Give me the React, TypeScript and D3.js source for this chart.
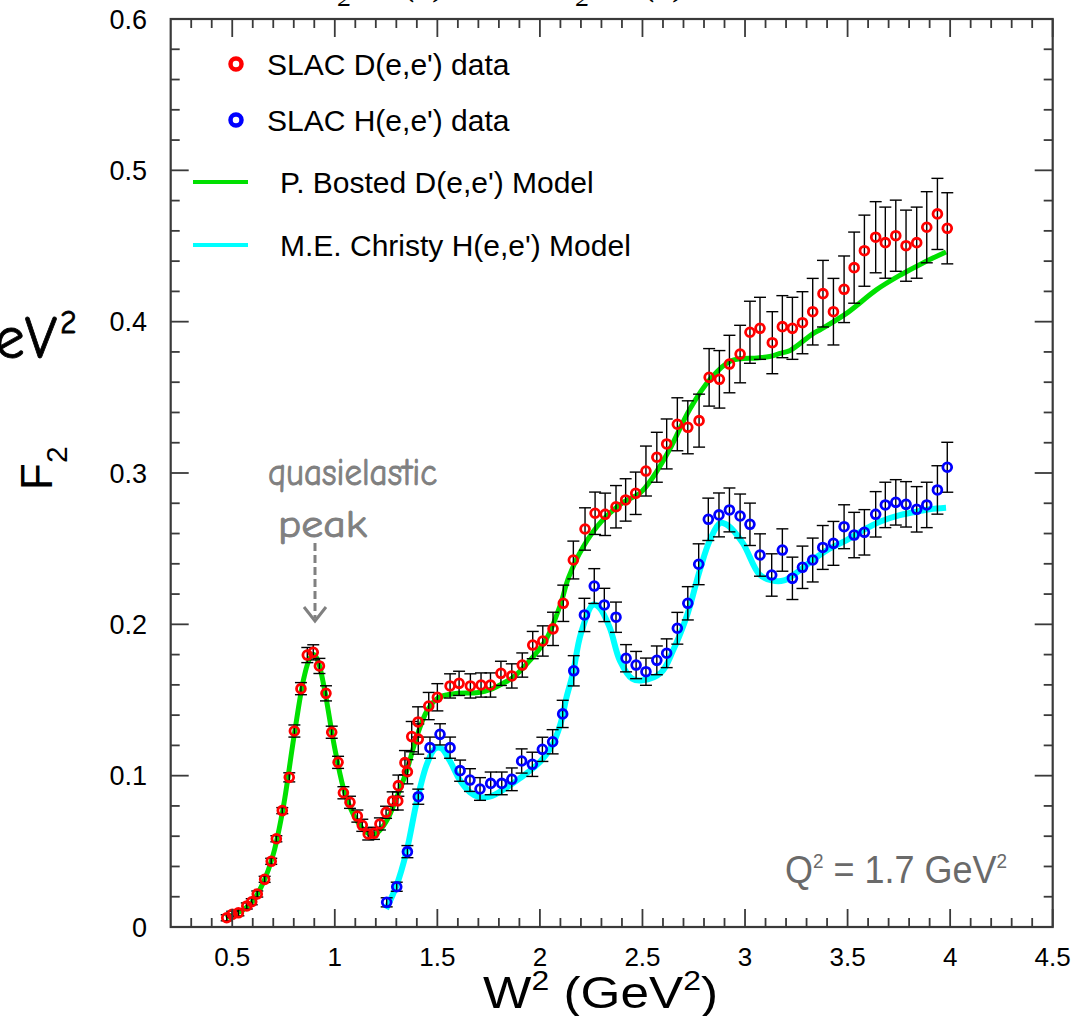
import React from "react";
import * as d3 from "d3";

// ---------- data ----------
const dW2 = [0.473,0.500,0.530,0.571,0.595,0.622,0.658,0.690,0.715,0.744,0.778,0.803,0.835,0.866,0.895,0.925,0.957,0.985,1.016,1.042,1.074,1.110,1.134,1.163,1.191,1.220,1.250,1.282,1.307,1.310,1.342,1.354,1.375,1.407,1.406,1.458,1.500,1.562,1.606,1.661,1.713,1.759,1.810,1.863,1.914,1.965,2.014,2.064,2.114,2.163,2.220,2.269,2.318,2.371,2.418,2.467,2.517,2.570,2.618,2.670,2.721,2.776,2.825,2.875,2.924,2.976,3.024,3.073,3.133,3.182,3.231,3.280,3.330,3.380,3.431,3.483,3.532,3.582,3.637,3.684,3.735,3.785,3.837,3.886,3.938,3.986];
const dF2 = [0.0061,0.0084,0.0094,0.0139,0.0167,0.0218,0.0315,0.0434,0.0583,0.0769,0.0989,0.1295,0.1575,0.1797,0.1815,0.1725,0.1544,0.1287,0.1088,0.0887,0.0824,0.0733,0.0672,0.0615,0.0619,0.0681,0.0758,0.0833,0.0833,0.0934,0.1086,0.1026,0.1258,0.1242,0.1355,0.1460,0.1518,0.1593,0.1610,0.1593,0.1599,0.1599,0.1676,0.1659,0.1731,0.1863,0.1890,0.1970,0.2139,0.2425,0.2630,0.2734,0.2727,0.2777,0.2822,0.2866,0.3013,0.3104,0.3192,0.3322,0.3302,0.3346,0.3632,0.3619,0.3720,0.3786,0.3930,0.3956,0.3861,0.3967,0.3956,0.3993,0.4066,0.4185,0.4066,0.4214,0.4357,0.4469,0.4558,0.4522,0.4568,0.4502,0.4522,0.4624,0.4712,0.4617];
const dErr = [0.002,0.002,0.002,0.002,0.002,0.002,0.002,0.002,0.002,0.002,0.003,0.004,0.004,0.005,0.005,0.005,0.005,0.004,0.004,0.004,0.004,0.004,0.004,0.004,0.004,0.004,0.004,0.006,0.006,0.007,0.008,0.008,0.010,0.010,0.010,0.009,0.009,0.008,0.008,0.008,0.008,0.008,0.008,0.008,0.008,0.009,0.010,0.011,0.012,0.0125,0.014,0.014,0.014,0.014,0.014,0.014,0.0165,0.0165,0.0165,0.0175,0.0175,0.0175,0.019,0.019,0.019,0.019,0.0205,0.0205,0.0205,0.0205,0.0205,0.0205,0.022,0.022,0.022,0.022,0.0235,0.0235,0.0235,0.0235,0.0235,0.0235,0.0235,0.0235,0.0235,0.0235];

const hW2 = [1.253,1.302,1.354,1.407,1.464,1.513,1.562,1.611,1.659,1.708,1.760,1.814,1.863,1.911,1.963,2.012,2.062,2.111,2.165,2.217,2.265,2.314,2.371,2.420,2.469,2.517,2.570,2.618,2.670,2.721,2.774,2.821,2.873,2.924,2.976,3.024,3.073,3.130,3.182,3.231,3.280,3.330,3.379,3.431,3.483,3.532,3.582,3.637,3.684,3.735,3.785,3.837,3.886,3.938,3.986];
const hF2 = [0.0163,0.0266,0.0498,0.0861,0.1185,0.1273,0.1185,0.1033,0.0971,0.0912,0.0949,0.0949,0.0976,0.1097,0.1075,0.1174,0.1224,0.1408,0.1693,0.2062,0.2253,0.2128,0.2047,0.1776,0.1731,0.1687,0.1762,0.1809,0.1974,0.2139,0.2397,0.2694,0.2723,0.2756,0.2716,0.2661,0.2458,0.2326,0.2491,0.2304,0.2377,0.2425,0.2508,0.2535,0.2645,0.2590,0.2608,0.2727,0.2789,0.2806,0.2793,0.2760,0.2789,0.2888,0.3038];
const hErr = [0.003,0.003,0.004,0.005,0.007,0.007,0.007,0.007,0.0075,0.0075,0.0075,0.0075,0.0075,0.008,0.008,0.008,0.008,0.009,0.010,0.011,0.0115,0.011,0.010,0.009,0.009,0.009,0.0095,0.0095,0.0105,0.011,0.0135,0.014,0.0145,0.0145,0.0145,0.014,0.014,0.014,0.014,0.014,0.014,0.0145,0.0145,0.0145,0.0145,0.015,0.015,0.015,0.015,0.015,0.015,0.015,0.015,0.016,0.0165];

const dModelW2 = [0.47,0.50,0.55,0.60,0.65,0.70,0.75,0.80,0.85,0.88,0.90,0.92,0.95,1.00,1.05,1.10,1.15,1.19,1.22,1.26,1.30,1.35,1.40,1.45,1.50,1.55,1.60,1.70,1.76,1.82,1.87,1.95,2.03,2.10,2.14,2.21,2.30,2.40,2.49,2.55,2.63,2.73,2.83,2.93,3.06,3.12,3.17,3.22,3.33,3.37,3.50,3.64,3.76,3.87,3.98];
const dModelF2 = [0.006,0.008,0.011,0.017,0.029,0.048,0.080,0.125,0.165,0.178,0.180,0.175,0.157,0.118,0.088,0.072,0.063,0.061,0.064,0.072,0.085,0.103,0.126,0.143,0.151,0.1535,0.1545,0.155,0.157,0.161,0.165,0.176,0.190,0.213,0.231,0.251,0.268,0.280,0.287,0.297,0.315,0.342,0.362,0.374,0.376,0.377,0.379,0.381,0.392,0.395,0.406,0.421,0.431,0.439,0.446];

const hModelW2 = [1.25,1.30,1.35,1.40,1.45,1.49,1.52,1.56,1.61,1.66,1.70,1.75,1.80,1.90,2.00,2.06,2.10,2.13,2.16,2.20,2.26,2.29,2.34,2.39,2.45,2.50,2.59,2.65,2.72,2.78,2.83,2.88,2.92,2.99,3.07,3.13,3.19,3.26,3.33,3.40,3.50,3.60,3.66,3.75,3.82,3.90,3.98];
const hModelF2 = [0.012,0.027,0.050,0.083,0.108,0.118,0.118,0.110,0.097,0.089,0.086,0.086,0.089,0.098,0.109,0.120,0.134,0.152,0.167,0.194,0.213,0.211,0.198,0.176,0.164,0.163,0.168,0.183,0.207,0.236,0.256,0.267,0.265,0.2535,0.233,0.229,0.229,0.235,0.2425,0.249,0.256,0.264,0.268,0.272,0.274,0.276,0.277];

const xTickValues = [0.5,1,1.5,2,2.5,3,3.5,4,4.5];
const xTickLabels = ["0.5","1","1.5","2","2.5","3","3.5","4","4.5"];
const yTickValues = [0,0.1,0.2,0.3,0.4,0.5,0.6];
const yTickLabels = ["0","0.1","0.2","0.3","0.4","0.5","0.6"];

const legendLabels = ["SLAC D(e,e') data","SLAC H(e,e') data","P. Bosted D(e,e') Model","M.E. Christy H(e,e') Model"];

// ---------- layout ----------
const WIDTH = 1075, HEIGHT = 1016;
const L = 170.7, R = 1052.7, T = 19, B = 927;
const RED = "#ff0000", BLUE = "#0000ff", GREEN = "#00e000", CYAN = "#00ffff";
const AX = "#3a3a3a";
const SANS = "'Liberation Sans', Arial, Helvetica, sans-serif";
const COMIC = "'Comic Sans MS', 'Comic Neue', 'DejaVu Sans', sans-serif";

export default function App() {
  const x = d3.scaleLinear().domain([0.2, 4.5]).range([L, R]);
  const y = d3.scaleLinear().domain([0, 0.6]).range([B, T]);

  const line = d3.line<[number, number]>()
    .x((d) => x(d[0]))
    .y((d) => y(d[1]))
    .curve(d3.curveCatmullRom.alpha(0.5));

  const dModel = dModelW2.map((w, i) => [w, dModelF2[i]] as [number, number]);
  const hModel = hModelW2.map((w, i) => [w, hModelF2[i]] as [number, number]);
  const dPts = dW2.map((w, i) => ({ w, f: dF2[i], e: dErr[i] }));
  const hPts = hW2.map((w, i) => ({ w, f: hF2[i], e: hErr[i] }));

  const xMinor = d3.range(0.3, 4.45, 0.1).filter((v) => Math.abs(v * 2 - Math.round(v * 2)) > 1e-6);
  const yMinor = d3.range(0.02, 0.6, 0.02).filter((v) => Math.abs(v * 10 - Math.round(v * 10)) > 1e-6);

  const MAJ = 18, MIN = 9;

  const errBars = (pts: { w: number; f: number; e: number }[]) =>
    pts.map((p, i) => {
      const cx = x(p.w);
      const y1 = y(p.f + p.e), y2 = y(p.f - p.e);
      return (
        <g key={i} stroke="#000" strokeWidth={1.4}>
          <line x1={cx} x2={cx} y1={y1} y2={y2} />
          <line x1={cx - 6} x2={cx + 6} y1={y1} y2={y1} />
          <line x1={cx - 6} x2={cx + 6} y1={y2} y2={y2} />
        </g>
      );
    });

  return (
    <svg width={WIDTH} height={HEIGHT} style={{ position: "absolute", left: 0, top: 0, background: "#fff" }}>
      <rect x={0} y={0} width={WIDTH} height={HEIGHT} fill="#fff" />

      {/* clipped top title */}
      <g fontFamily="'Liberation Serif', 'Times New Roman', serif" fontStyle="italic" fill="#000">
        <text x={312} y={-6} fontSize={40}>F</text>
        <text x={338} y={6} fontSize={28}>2</text>
        <text x={404} y={-6} fontSize={40}>(x)</text>
        <text x={550} y={-6} fontSize={40}>F</text>
        <text x={576} y={6} fontSize={28}>2</text>
        <text x={644} y={-6} fontSize={40}>(x)</text>
      </g>

      {/* clipped unit text at left */}
      <g fontFamily={COMIC} fill="#000" stroke="#000" strokeWidth={0.8}>
        <text x={57} y={358} fontSize={60} textAnchor="end">GeV</text>
        <text x={60} y={333} fontSize={32}>2</text>
      </g>

      {/* model curves */}
      <path d={line(dModel) || ""} fill="none" stroke={GREEN} strokeWidth={5} />
      <path d={line(hModel) || ""} fill="none" stroke={CYAN} strokeWidth={6} />

      {/* error bars */}
      {errBars(dPts)}
      {errBars(hPts)}

      {/* markers */}
      {dPts.map((p, i) => (
        <circle key={"d" + i} cx={x(p.w)} cy={y(p.f)} r={4.4} fill="none" stroke={RED} strokeWidth={2.8} />
      ))}
      {hPts.map((p, i) => (
        <circle key={"h" + i} cx={x(p.w)} cy={y(p.f)} r={4.4} fill="none" stroke={BLUE} strokeWidth={2.8} />
      ))}

      {/* frame */}
      <rect x={L} y={T} width={R - L} height={B - T} fill="none" stroke={AX} strokeWidth={2.2} />
      <g stroke={AX} strokeWidth={1.8}>
        {xTickValues.map((v, i) => (
          <g key={"xm" + i}>
            <line x1={x(v)} x2={x(v)} y1={B} y2={B - MAJ} />
            <line x1={x(v)} x2={x(v)} y1={T} y2={T + MAJ} />
          </g>
        ))}
        {xMinor.map((v, i) => (
          <g key={"xn" + i}>
            <line x1={x(v)} x2={x(v)} y1={B} y2={B - MIN} />
            <line x1={x(v)} x2={x(v)} y1={T} y2={T + MIN} />
          </g>
        ))}
        {yTickValues.map((v, i) => (
          <g key={"ym" + i}>
            <line x1={L} x2={L + MAJ} y1={y(v)} y2={y(v)} />
            <line x1={R} x2={R - MAJ} y1={y(v)} y2={y(v)} />
          </g>
        ))}
        {yMinor.map((v, i) => (
          <g key={"yn" + i}>
            <line x1={L} x2={L + MIN} y1={y(v)} y2={y(v)} />
            <line x1={R} x2={R - MIN} y1={y(v)} y2={y(v)} />
          </g>
        ))}
      </g>

      {/* tick labels */}
      <g fontFamily={SANS} fill="#000">
        {xTickValues.map((v, i) => (
          <text key={"xl" + i} x={x(v)} y={966} fontSize={26} textAnchor="middle">{xTickLabels[i]}</text>
        ))}
        {yTickValues.map((v, i) => (
          <text key={"yl" + i} x={147} y={y(v) + 9.5} fontSize={27} textAnchor="end">{yTickLabels[i]}</text>
        ))}
      </g>

      {/* axis titles */}
      <text x={483} y={1008} fontFamily={SANS} fontSize={45} fill="#000" textLength={235} lengthAdjust="spacingAndGlyphs">
        W<tspan fontSize={28} dy={-18}>2</tspan><tspan dy={18}> (GeV</tspan><tspan fontSize={28} dy={-18}>2</tspan><tspan dy={18}>)</tspan>
      </text>
      <text transform="translate(52,490) rotate(-90)" fontFamily={SANS} fontSize={44} fill="#000">
        F<tspan fontSize={30} dy={15}>2</tspan>
      </text>

      {/* legend */}
      <g fontFamily={SANS} fontSize={30} fill="#000">
        <circle cx={236} cy={64} r={5.5} fill="none" stroke={RED} strokeWidth={4.5} />
        <text x={267} y={75}>{legendLabels[0]}</text>
        <circle cx={236} cy={120} r={5.5} fill="none" stroke={BLUE} strokeWidth={4.5} />
        <text x={267} y={131}>{legendLabels[1]}</text>
        <line x1={193} x2={248} y1={182} y2={182} stroke={GREEN} strokeWidth={4} />
        <text x={280} y={193}>{legendLabels[2]}</text>
        <line x1={193} x2={248} y1={245} y2={245} stroke={CYAN} strokeWidth={4} />
        <text x={280} y={256}>{legendLabels[3]}</text>
      </g>

      {/* annotation */}
      <g fill="#808080" stroke="#808080" strokeWidth={0.9} fontFamily={COMIC}>
        <text x={268} y={485} fontSize={38} textLength={169} lengthAdjust="spacingAndGlyphs">quasielastic</text>
        <text x={278} y={537} fontSize={38} textLength={89} lengthAdjust="spacingAndGlyphs">peak</text>
      </g>
      <line x1={315} x2={315} y1={543} y2={618} stroke="#808080" strokeWidth={3} strokeDasharray="8,4" />
      <polyline points="304,607 315,621 326,607" fill="none" stroke="#808080" strokeWidth={3} />

      {/* Q^2 label */}
      <text x={785} y={883} fontFamily={SANS} fontSize={38} fill="#6a6a6a" textLength={222} lengthAdjust="spacingAndGlyphs">
        Q<tspan fontSize={20} dy={-15}>2</tspan><tspan dy={15}> = 1.7 GeV</tspan><tspan fontSize={20} dy={-15}>2</tspan>
      </text>
    </svg>
  );
}
